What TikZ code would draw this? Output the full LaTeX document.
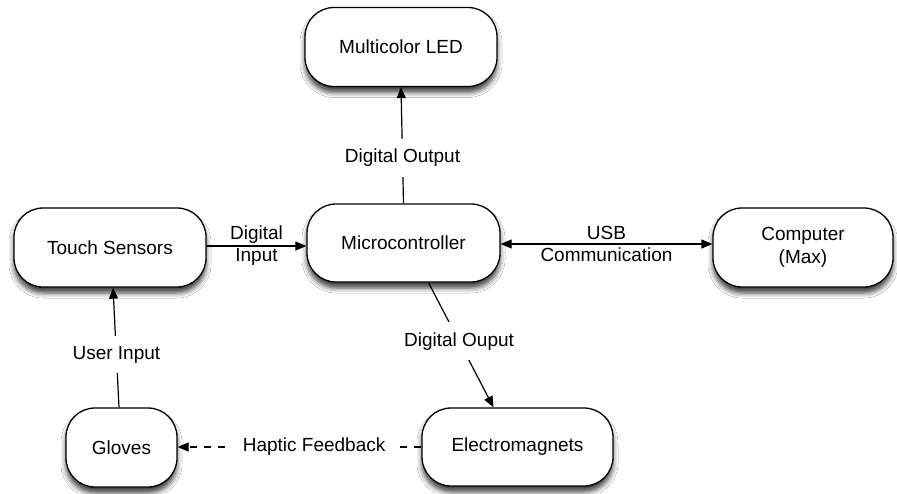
\documentclass[tikz,border=0pt]{standalone}
\usepackage{fontspec}
\setmainfont{Liberation Sans}
\usetikzlibrary{arrows.meta,shadows.blur}
\begin{document}
\begin{tikzpicture}[x=1pt,y=-1pt,
  box/.style={draw=black, line width=1.3pt, fill=white, rounded corners=29pt,
    inner sep=0pt, minimum height=79pt, align=center,
    font=\fontsize{19}{23}\selectfont,
    blur shadow={shadow xshift=0pt, shadow yshift=-6pt, shadow blur radius=5pt, shadow opacity=75}},
  conn/.style={line width=1.2pt, draw=black},
  arr/.style={conn, -{Triangle[length=11pt,width=9pt]}},
  lbl/.style={fill=white, inner xsep=7pt, inner ysep=10pt, font=\fontsize{19}{23}\selectfont},
  lbl2/.style={inner sep=0pt, align=center, font=\fontsize{19}{22}\selectfont}]
\useasboundingbox (0,0) rectangle (897,493);
\fill[white] (0,0) rectangle (897,493);

\node[box, minimum width=192pt] (led) at (401,47) {Multicolor LED};
\node[box, minimum width=192pt] (touch) at (110,247.5) {Touch Sensors};
\node[box, minimum width=193pt, minimum height=78pt] (micro) at (403.5,243) {Microcontroller};
\node[box, minimum width=180pt] (comp) at (803,247.5) {Computer\\(Max)};
\node[box, minimum width=111pt] (gloves) at (121.5,447.5) {Gloves};
\node[box, minimum width=191pt, minimum height=78pt] (elec) at (517.5,447) {Electromagnets};

\draw[arr] (micro.north) -- node[lbl, pos=0.39] {Digital Output} (led.south);
\draw[arr] (touch.east |- 0,246) -- node[lbl2] {Digital\\Input} (micro.west |- 0,246);
\draw[conn, {Triangle[length=11pt,width=9pt]}-{Triangle[length=11pt,width=9pt]}] (micro.east |- 0,244) -- node[lbl2] {USB\\Communication} (comp.west |- 0,244);
\draw[arr] ([xshift=-2.5pt]gloves.north) -- node[lbl, pos=0.44] {User Input} ([xshift=3pt]touch.south);
\draw[arr] ([xshift=25pt]micro.south) -- node[lbl, pos=0.47] {Digital Ouput} ([xshift=-24pt]elec.north);
\draw[arr, dash pattern=on 7pt off 7pt] (elec.west |- 0,447) -- node[lbl, pos=0.44, inner xsep=11pt] {Haptic Feedback} (gloves.east |- 0,447);
\end{tikzpicture}
\end{document}
